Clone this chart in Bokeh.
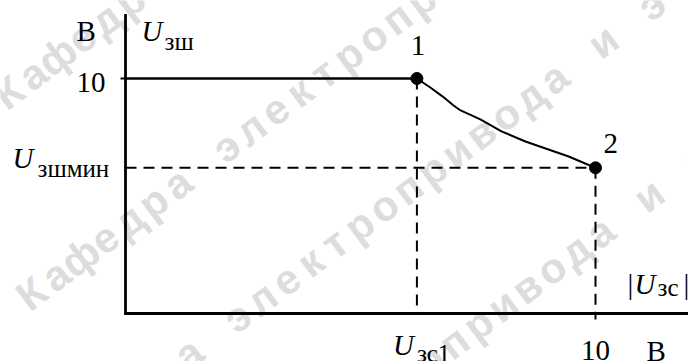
import numpy as np
from bokeh.plotting import figure
from bokeh.embed import file_html
from bokeh.resources import INLINE
from bokeh.core.properties import value

# Characteristic U_зш = f(|U_зс|), volts
u_zs1 = 6.2        # abscissa of point 1
u_zs_max = 10.0    # abscissa of point 2
u_zsh_max = 10.0   # flat level up to point 1
u_zsh_min = 6.2    # level at point 2

# falling branch between points 1 and 2
curve_x = [6.2, 6.47, 6.75, 6.98, 7.13, 7.55, 8.0, 8.51, 9.0, 9.43, 9.68, 10.0]
curve_y = [10.0, 9.64, 9.23, 8.85, 8.64, 8.26, 7.75, 7.32, 6.98, 6.68, 6.47, 6.2]

point_labels = ["1", "2"]
y_tick_label = "10"
x_tick_label = "10"
unit = "В"

# ---- layout: frame fills the canvas, origin placed at pixel (OX, OY) ----
W, H = 688, 361
OX, OY = 125, 313          # origin, pixels from top-left
SX, SY = 47.0, 23.5        # pixels per volt along x and y
AXIS_TOP = 12.75           # top end of the ordinate axis
AXIS_RIGHT = 12.2          # right end of the abscissa axis
SERIF = value("Liberation Serif")
BASE_FIX = 0.33            # raise text so its baseline sits on the anchor

p = figure(width=W, height=H,
           x_range=(-OX / SX, (W - OX) / SX),
           y_range=(-(H - OY) / SY, OY / SY),
           output_backend="svg", toolbar_location=None, min_border=0)
p.axis.visible = False
p.grid.visible = False
p.outline_line_color = None
p.background_fill_color = "white"
p.border_fill_color = "white"


def shift(x, y, dx=0.0, dy=0.0):
    """Move a data point by screen pixels (dy > 0 is downwards)."""
    return x + dx / SX, y - dy / SY


def from_px(xp, yp):
    return (xp - OX) / SX, (OY - yp) / SY


# ---- faint diagonal watermark, placed letter by letter ----
wm_text = "Кафедра электропривода и э"
wm_starts = [(8, 92), (31, 293), (42, 463), (88, 617)]
wm_angle = np.deg2rad(37)
wm_step = 30.5
wm_margin = -14
wx, wy, wt = [], [], []
for sx0, sy0 in wm_starts:
    for i, ch in enumerate(wm_text):
        if ch == " ":
            continue
        cx = sx0 + i * wm_step * np.cos(wm_angle)
        cy = sy0 - i * wm_step * np.sin(wm_angle)
        if not (wm_margin < cx < W - wm_margin and wm_margin < cy < H - wm_margin):
            continue
        dx_, dy_ = from_px(cx, cy)
        wx.append(dx_)
        wy.append(dy_)
        wt.append(ch)
p.text(x=wx, y=wy, text=wt, angle=wm_angle,
       text_font=value("Liberation Sans"), text_font_style="bold",
       text_font_size="42px", text_color="#dddddd",
       text_align="center", text_baseline="middle")

# ---- axes ----
p.line([0, 0, AXIS_RIGHT], [AXIS_TOP, 0, 0], line_color="black",
       line_width=2.8, line_join="miter")
# tick marks at 10 V
tx0, ty0 = shift(0, u_zsh_max, dx=-5)
p.line([tx0, 0], [ty0, u_zsh_max], line_color="black", line_width=2)
bx0, by0 = shift(u_zs_max, 0, dy=6)
p.line([u_zs_max, bx0], [0, by0], line_color="black", line_width=2)

# ---- dashed guides ----
dash = "11 7"
p.line([0, u_zs_max], [u_zsh_min, u_zsh_min], line_color="black",
       line_width=2, line_dash=dash)
p.line([u_zs1, u_zs1], [u_zsh_max, 0], line_color="black",
       line_width=2, line_dash=dash)
p.line([u_zs_max, u_zs_max], [u_zsh_min, 0], line_color="black",
       line_width=2, line_dash=dash)

# ---- characteristic ----
p.line([0, u_zs1], [u_zsh_max, u_zsh_max], line_color="black", line_width=2.6)
p.line(curve_x, curve_y, line_color="black", line_width=2, line_join="round")
p.scatter([u_zs1, u_zs_max], [u_zsh_max, u_zsh_min], size=12,
          fill_color="black", line_color="black")

# ---- texts ----
MAIN, SUB = 29, 25


def label(x, y, txt, size=MAIN, style="normal", align="left"):
    x, y = shift(x, y, dy=-BASE_FIX * size)
    p.text(x=[x], y=[y], text=[txt], text_font=SERIF,
           text_font_size=f"{size}px", text_font_style=style,
           text_align=align, text_baseline="alphabetic", text_color="black")


def u_sub(x, y, sub, sub_dx=23, sub_dy=8.5):
    """Italic U with a Cyrillic subscript; (x, y) is U's left baseline."""
    label(x, y, "U", style="italic")
    sx_, sy_ = shift(x, y, dx=sub_dx, dy=sub_dy)
    label(sx_, sy_, sub, size=SUB)


# ordinate: unit and symbol
label(*shift(0, AXIS_TOP, dx=-49, dy=27), unit)
u_sub(*shift(0, AXIS_TOP, dx=16, dy=27), "зш")
# ordinate ticks
label(*shift(0, u_zsh_max, dx=-20, dy=14), y_tick_label, align="right")
u_sub(*shift(0, u_zsh_min, dx=-113, dy=0), "зшмин", sub_dx=25)
# point numbers
label(*shift(u_zs1, u_zsh_max, dx=1, dy=-23), point_labels[0], align="center")
label(*shift(u_zs_max, u_zsh_min, dx=8, dy=-15), point_labels[1])
# abscissa symbol |U_зс|
label(*shift(u_zs_max, 0, dx=32, dy=-20), "|")
u_sub(*shift(u_zs_max, 0, dx=39, dy=-20), "зс", sub_dx=23, sub_dy=2)
label(*shift(u_zs_max, 0, dx=88, dy=-20), "|")
# abscissa ticks and unit
u_sub(*shift(u_zs1, 0, dx=-24, dy=41), "зс1", sub_dx=24, sub_dy=7)
label(*shift(u_zs_max, 0, dx=0, dy=47), x_tick_label, align="center")
label(*shift(u_zs_max, 0, dx=51, dy=47), unit)

open("out.html", "w").write(file_html(p, INLINE))
